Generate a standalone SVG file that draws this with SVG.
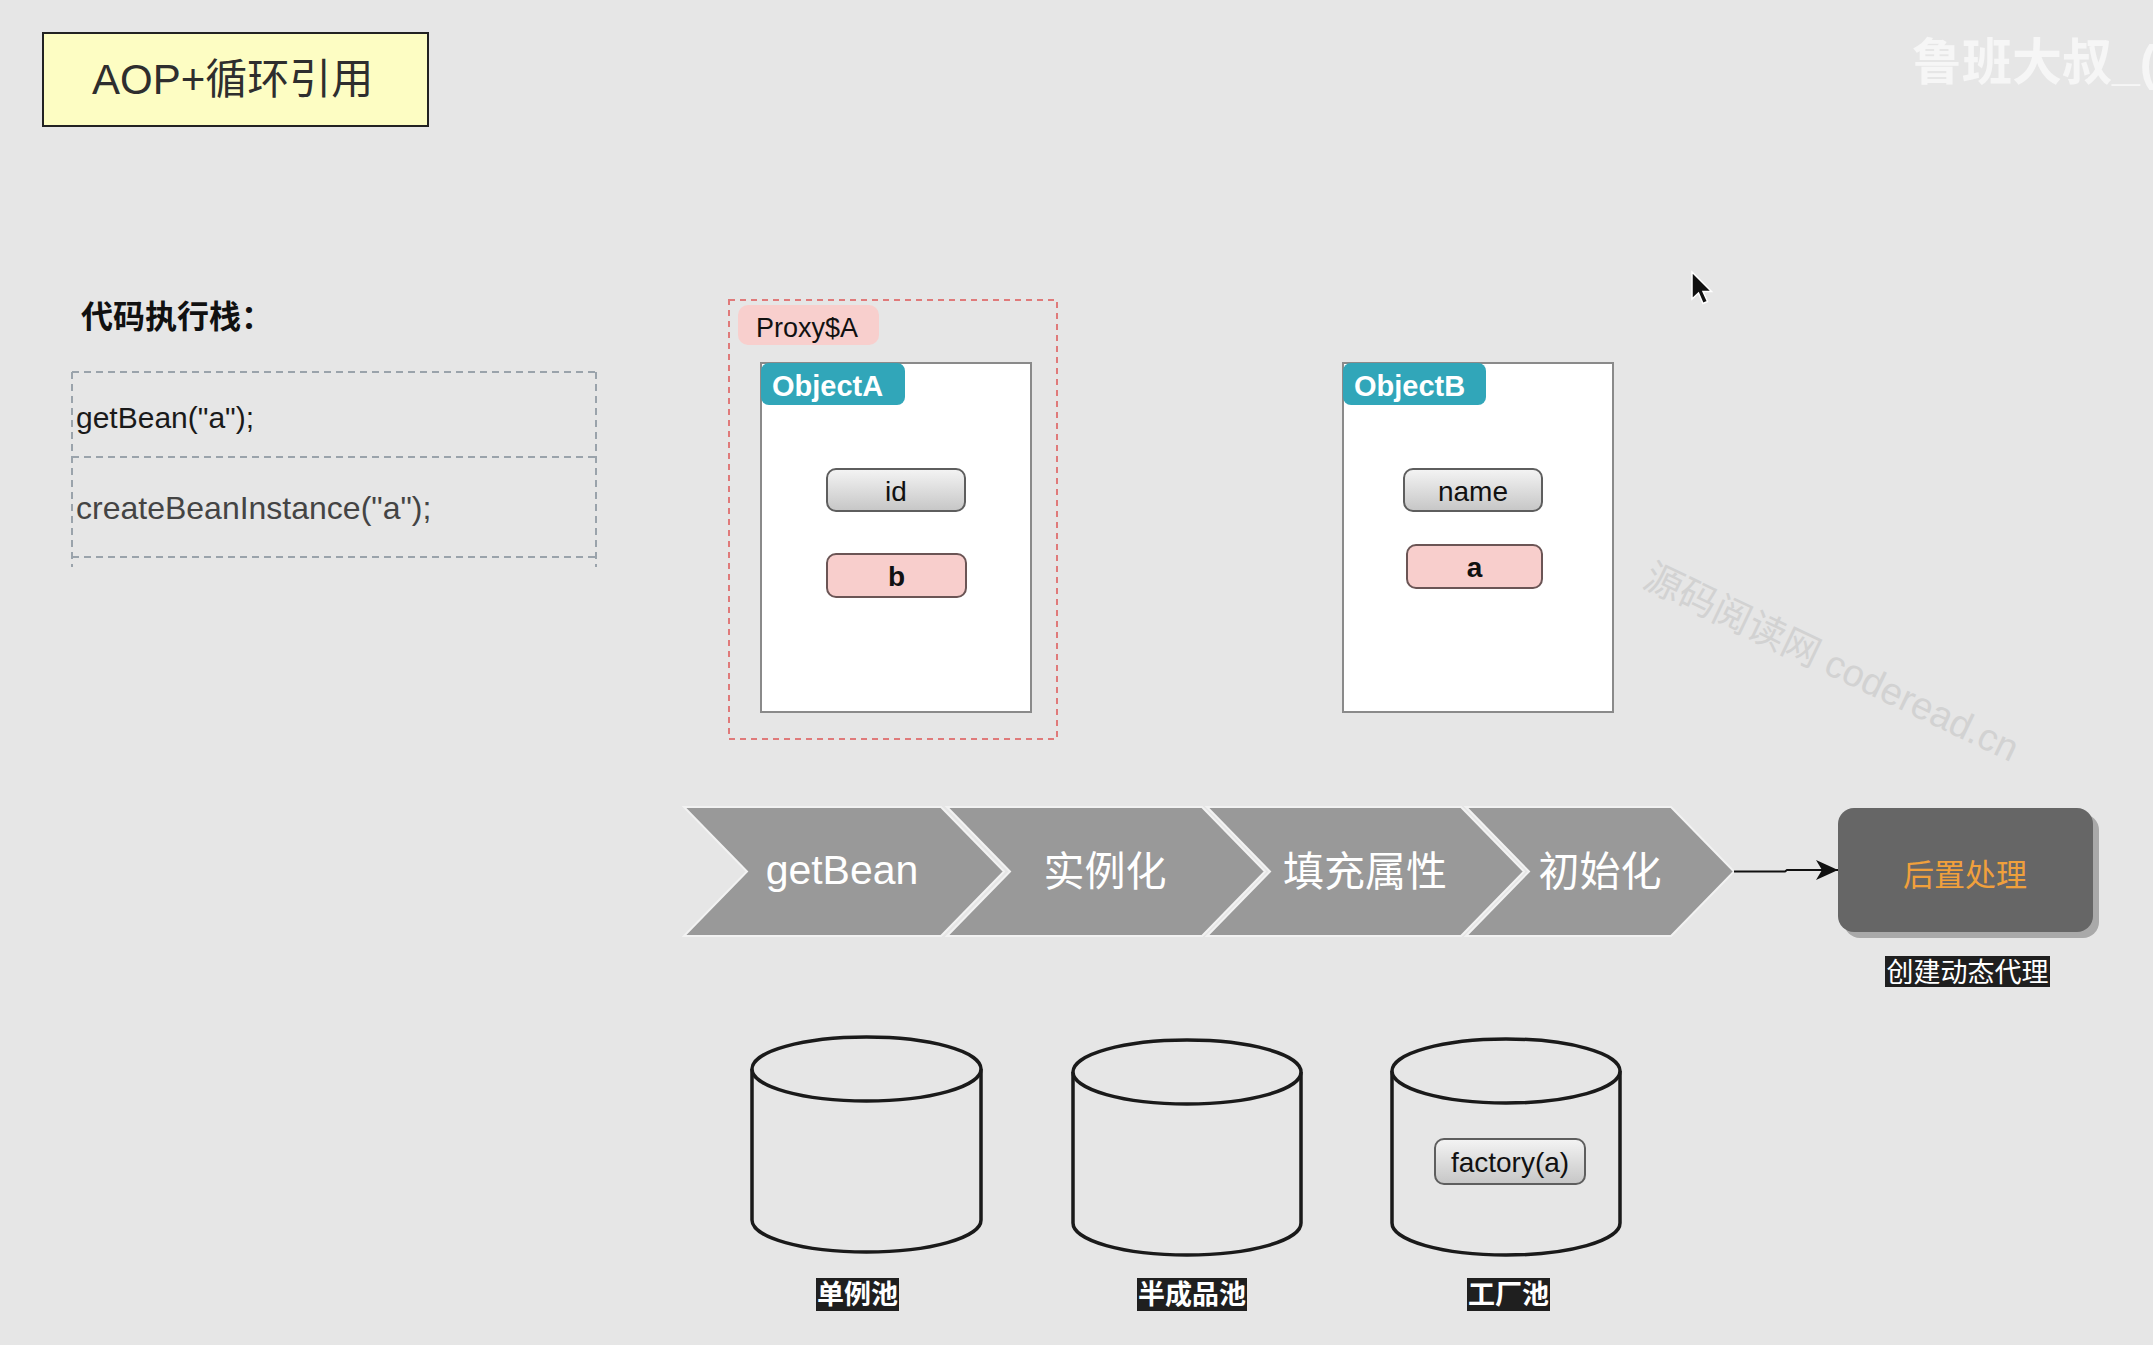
<svg xmlns="http://www.w3.org/2000/svg" width="2153" height="1345" viewBox="0 0 2153 1345">
<defs>
<linearGradient id="btnGray" x1="0" y1="0" x2="0" y2="1">
<stop offset="0" stop-color="#f4f4f4"/>
<stop offset="1" stop-color="#c6c6c6"/>
</linearGradient>
<marker id="arrowHead" markerWidth="24" markerHeight="22" refX="22" refY="11" orient="auto" markerUnits="userSpaceOnUse">
<path d="M22,11 L0,1 L6,11 L0,21 Z" fill="#111"/>
</marker>
</defs>
<style>
text { font-family: "Liberation Sans", "Noto Sans CJK SC", sans-serif; }
.chev { fill: #999999; stroke: #f2f2f2; stroke-width: 2; }
.chevText { fill: #ffffff; font-size: 41px; text-anchor: middle; }
.objBox { fill: #ffffff; stroke: #8a8a8a; stroke-width: 2; }
.tab { fill: #31a6b9; }
.tabText { fill: #ffffff; font-size: 29px; font-weight: bold; }
.btnGray { fill: url(#btnGray); stroke: #5e5e5e; stroke-width: 2; }
.btnPink { fill: #f8cecc; stroke: #6b5555; stroke-width: 2; }
.btnText { fill: #111; font-size: 28px; text-anchor: middle; }
.cyl { fill: #e6e6e6; stroke: #1a1a1a; stroke-width: 3.5; }
.darkLabel { fill: #1f1f1f; }
.darkLabelText { fill: #ffffff; font-size: 27px; font-weight: bold; text-anchor: middle; }
.stackLine { stroke: #9aa3ab; stroke-width: 2; stroke-dasharray: 7 5; fill: none; }
</style>
<rect x="0" y="0" width="2153" height="1345" fill="#e6e6e6"/>

<!-- watermarks -->
<text x="1912" y="80" font-size="50" font-weight="bold" fill="#f6f6f6">鲁班大叔_(</text>
<text transform="translate(1641,586) rotate(25.5)" font-size="38" fill="#d2d2d2">源码阅读网 coderead.cn</text>

<g id="title">
<rect x="43" y="33" width="385" height="93" fill="#fdfdc3" stroke="#222" stroke-width="2"/>
<text x="92" y="94" font-size="42" fill="#2e2e2e">AOP+循环引用</text>
</g>

<g id="stack">
<text x="81" y="328" font-size="32" font-weight="bold" fill="#111">代码执行栈：</text>
<line class="stackLine" x1="72" y1="372" x2="596" y2="372"/>
<line class="stackLine" x1="72" y1="457" x2="596" y2="457"/>
<line class="stackLine" x1="72" y1="557" x2="596" y2="557"/>
<line class="stackLine" x1="72" y1="372" x2="72" y2="567"/>
<line class="stackLine" x1="596" y1="372" x2="596" y2="567"/>
<text x="76" y="428" font-size="30" fill="#1a1a1a">getBean("a");</text>
<text x="76" y="519" font-size="32" fill="#444">createBeanInstance("a");</text>
</g>

<g id="proxyA">
<rect x="729" y="300" width="328" height="439" fill="none" stroke="#e07a7a" stroke-width="2" stroke-dasharray="6 5"/>
<rect x="738" y="305" width="141" height="40" rx="10" fill="#f8cfcd"/>
<text x="756" y="337" font-size="27" fill="#111">Proxy$A</text>
</g>

<g id="objectA">
<rect class="objBox" x="761" y="363" width="270" height="349"/>
<rect class="tab" x="761" y="363" width="144" height="42" rx="8"/>
<text class="tabText" x="772" y="396">ObjectA</text>
<rect class="btnGray" x="827" y="469" width="138" height="42" rx="9"/>
<text class="btnText" x="896" y="501">id</text>
<rect class="btnPink" x="827" y="554" width="139" height="43" rx="9"/>
<text class="btnText" x="896.5" y="586" font-weight="bold">b</text>
</g>

<g id="objectB">
<rect class="objBox" x="1343" y="363" width="270" height="349"/>
<rect class="tab" x="1343" y="363" width="143" height="42" rx="8"/>
<text class="tabText" x="1354" y="396">ObjectB</text>
<rect class="btnGray" x="1404" y="469" width="138" height="42" rx="9"/>
<text class="btnText" x="1473" y="501">name</text>
<rect class="btnPink" x="1407" y="545" width="135" height="43" rx="9"/>
<text class="btnText" x="1474.5" y="577" font-weight="bold">a</text>
</g>

<g id="step-getBean">
<polygon class="chev" points="684,807 941,807 1004,871.5 941,936 684,936 747,871.5"/>
<text class="chevText" x="842" y="884" font-size="39">getBean</text>
</g>
<g id="step-instantiate">
<polygon class="chev" points="947,807 1202,807 1265,871.5 1202,936 947,936 1010,871.5"/>
<text class="chevText" x="1105" y="886">实例化</text>
</g>
<g id="step-populate">
<polygon class="chev" points="1207,807 1461,807 1524,871.5 1461,936 1207,936 1270,871.5"/>
<text class="chevText" x="1365" y="886">填充属性</text>
</g>
<g id="step-init">
<polygon class="chev" points="1466,807 1671,807 1734,871.5 1671,936 1466,936 1529,871.5"/>
<text class="chevText" x="1600" y="886">初始化</text>
</g>

<g id="connectors">
<path d="M1734,871.5 L1785,871.5 L1787,870 L1838,870" fill="none" stroke="#111" stroke-width="2" marker-end="url(#arrowHead)"/>
</g>

<g id="postProcess">
<rect x="1844" y="814" width="255" height="124" rx="16" fill="#a9a9a9"/>
<rect x="1838" y="808" width="255" height="124" rx="16" fill="#666666"/>
<text x="1965" y="886" font-size="31" fill="#f0a03c" text-anchor="middle">后置处理</text>
<rect class="darkLabel" x="1885" y="956" width="165" height="31"/>
<text x="1967.5" y="982" font-size="27" fill="#ffffff" text-anchor="middle">创建动态代理</text>
</g>

<g id="pool-singleton">
<path class="cyl" d="M752,1069 L752,1220 A114.5,32 0 0 0 981,1220 L981,1069"/>
<ellipse class="cyl" cx="866.5" cy="1069" rx="114.5" ry="32"/>
<rect class="darkLabel" x="816" y="1278" width="83" height="33"/>
<text class="darkLabelText" x="857.5" y="1304">单例池</text>
</g>

<g id="pool-early">
<path class="cyl" d="M1073,1072 L1073,1223 A114,32 0 0 0 1301,1223 L1301,1072"/>
<ellipse class="cyl" cx="1187" cy="1072" rx="114" ry="32"/>
<rect class="darkLabel" x="1137" y="1278" width="110" height="33"/>
<text class="darkLabelText" x="1192" y="1304">半成品池</text>
</g>

<g id="pool-factory">
<path class="cyl" d="M1392,1071 L1392,1223 A114,32 0 0 0 1620,1223 L1620,1071"/>
<ellipse class="cyl" cx="1506" cy="1071" rx="114" ry="32"/>
<rect class="btnGray" x="1435" y="1139" width="150" height="45" rx="9"/>
<text class="btnText" x="1510" y="1172" font-size="30">factory(a)</text>
<rect class="darkLabel" x="1467" y="1278" width="83" height="33"/>
<text class="darkLabelText" x="1508.5" y="1304">工厂池</text>
</g>

<g id="cursor">
<path d="M1692,272 L1692,299 L1698.5,293 L1703,303.5 L1707.5,301.5 L1703,291.5 L1711.5,291.5 Z" fill="#111" stroke="#fff" stroke-width="1.5"/>
</g>
</svg>
